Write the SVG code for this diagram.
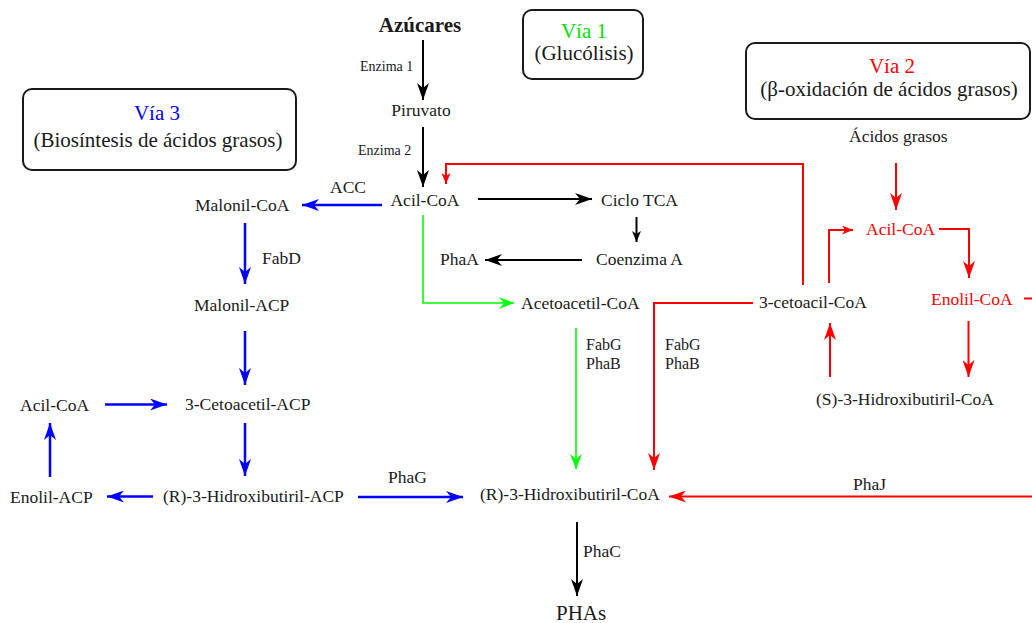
<svg xmlns="http://www.w3.org/2000/svg" width="1032" height="623" viewBox="0 0 1032 623">
<style>
text{font-family:"Liberation Serif","Times New Roman",serif;font-size:17.5px;fill:#1a1a1a}
.big{font-size:21px}
.sm{font-size:14px}
.fp{font-size:16px}
.b{font-weight:bold}
.mid{text-anchor:middle}
.box{fill:none;stroke:#1a1a1a;stroke-width:2}
.k{stroke:#000;stroke-width:2;fill:none}
.bl{stroke:#0000ff;stroke-width:2.5;fill:none}
.g{stroke:#00ff00;stroke-width:1.6;fill:none}
.r{stroke:#ff0000;stroke-width:2;fill:none}
.tr{fill:#ff0000}.tg{fill:#00e000}.tb{fill:#0000ff}
</style>
<defs>
<marker id="ak" markerUnits="userSpaceOnUse" markerWidth="18" markerHeight="12" refX="17" refY="6" orient="auto"><path d="M0,0 L17,6 L0,12 L5,6 z" fill="#000"/></marker>
<marker id="aks" markerUnits="userSpaceOnUse" markerWidth="12" markerHeight="9" refX="11" refY="4.5" orient="auto"><path d="M0,0 L11,4.5 L0,9 L3,4.5 z" fill="#000"/></marker>
<marker id="ab" markerUnits="userSpaceOnUse" markerWidth="18" markerHeight="12" refX="17" refY="6" orient="auto"><path d="M0,0 L17,6 L0,12 L5,6 z" fill="#0000ff"/></marker>
<marker id="ag" markerUnits="userSpaceOnUse" markerWidth="16" markerHeight="12" refX="15" refY="6" orient="auto"><path d="M0,0 L15,6 L0,12 L5,6 z" fill="#00ff00"/></marker>
<marker id="ar" markerUnits="userSpaceOnUse" markerWidth="18" markerHeight="12" refX="17" refY="6" orient="auto"><path d="M0,0 L17,6 L0,12 L5,6 z" fill="#ff0000"/></marker>
<marker id="ars" markerUnits="userSpaceOnUse" markerWidth="12" markerHeight="9" refX="11" refY="4.5" orient="auto"><path d="M0,0 L11,4.5 L0,9 L3,4.5 z" fill="#ff0000"/></marker>
</defs>
<rect width="1032" height="623" fill="#fff"/>

<g id="via1"><rect class="box" x="523" y="10" width="120" height="69" rx="9"/><text class="big mid tg" x="584" y="38">Vía 1</text><text class="big mid" x="584" y="60">(Glucólisis)</text></g>
<g id="via2"><rect class="box" x="746" y="43" width="284" height="76" rx="9"/><text class="big mid tr" x="892" y="73">Vía 2</text><text class="big mid" x="889" y="96">(β-oxidación de ácidos grasos)</text></g>
<g id="via3"><rect class="box" x="23" y="89" width="273" height="81" rx="9"/><text class="big mid tb" x="157" y="120">Vía 3</text><text class="big mid" x="158" y="147">(Biosíntesis de ácidos grasos)</text></g>

<g id="azucares"><text class="big b mid" x="420" y="32">Azúcares</text></g>
<g id="piruvato"><text class="mid" x="421" y="116">Piruvato</text></g>
<g id="acilcoa"><text class="mid" x="425" y="206">Acil-CoA</text></g>
<g id="ciclotca"><text x="601" y="206">Ciclo TCA</text></g>
<g id="coenzimaa"><text x="596" y="265">Coenzima  A</text></g>
<g id="phaa"><text x="440" y="265">PhaA</text></g>
<g id="acetoacetil"><text x="521" y="309">Acetoacetil-CoA</text></g>
<g id="cetoacil"><text x="759" y="308">3-cetoacil-CoA</text></g>
<g id="acidos"><text x="849" y="142">Ácidos grasos</text></g>
<g id="acilcoa2"><text class="tr" x="866" y="235">Acil-CoA</text></g>
<g id="enolilcoa"><text class="tr" x="931" y="305">Enolil-CoA</text></g>
<g id="shidroxi"><text x="816" y="405">(S)-3-Hidroxibutiril-CoA</text></g>
<g id="rhidroxicoa"><text x="480" y="500">(R)-3-Hidroxibutiril-CoA</text></g>
<g id="phas"><text class="big" x="556" y="620">PHAs</text></g>
<g id="malonilcoa"><text x="195" y="211">Malonil-CoA</text></g>
<g id="malonilacp"><text x="194" y="311">Malonil-ACP</text></g>
<g id="cetoacetilacp"><text x="185" y="410">3-Cetoacetil-ACP</text></g>
<g id="acilcoa3"><text x="20" y="411">Acil-CoA</text></g>
<g id="enolilacp"><text x="10" y="503">Enolil-ACP</text></g>
<g id="rhidroxiacp"><text x="163" y="502">(R)-3-Hidroxibutiril-ACP</text></g>

<g id="connectors">
<line class="k" x1="423" y1="40" x2="423" y2="100" marker-end="url(#ak)"/>
<line class="k" x1="423" y1="127" x2="423" y2="187" marker-end="url(#ak)"/>
<line class="k" x1="478" y1="199" x2="592" y2="199" marker-end="url(#ak)"/>
<line class="k" x1="636.5" y1="217" x2="636.5" y2="242" marker-end="url(#aks)"/>
<line class="k" x1="582" y1="260" x2="485" y2="260" marker-end="url(#ak)"/>
<line class="k" x1="577" y1="522" x2="577" y2="596" marker-end="url(#ak)"/>
<polyline class="g" points="423,215 423,303 514,303" marker-end="url(#ag)"/>
<line class="g" x1="576" y1="328" x2="576" y2="469" marker-end="url(#ag)"/>
<polyline class="r" points="803,285 803,164 446,164 446,184" marker-end="url(#ars)"/>
<polyline class="r" points="753,303 654,303 654,470" marker-end="url(#ar)"/>
<polyline class="r" points="829,283 829,230 853,230" marker-end="url(#ars)"/>
<line class="r" x1="896" y1="163" x2="896" y2="210" marker-end="url(#ar)"/>
<polyline class="r" points="939,229 969,229 969,278" marker-end="url(#ar)"/>
<line class="r" x1="1024" y1="298.5" x2="1032" y2="298.5"/>
<line class="r" x1="968.5" y1="321" x2="968.5" y2="377" marker-end="url(#ar)"/>
<line class="r" x1="830" y1="377" x2="830" y2="323" marker-end="url(#ar)"/>
<line class="r" x1="1032" y1="496.5" x2="669" y2="496.5" marker-end="url(#ar)"/>
<line class="bl" x1="382" y1="205" x2="302" y2="205" marker-end="url(#ab)"/>
<line class="bl" x1="245" y1="223" x2="245" y2="284" marker-end="url(#ab)"/>
<line class="bl" x1="245" y1="331" x2="245" y2="385" marker-end="url(#ab)"/>
<line class="bl" x1="105" y1="404.5" x2="167" y2="404.5" marker-end="url(#ab)"/>
<line class="bl" x1="245" y1="423" x2="245" y2="476" marker-end="url(#ab)"/>
<line class="bl" x1="153" y1="496.5" x2="107" y2="496.5" marker-end="url(#ab)"/>
<line class="bl" x1="50" y1="477" x2="50" y2="423" marker-end="url(#ab)"/>
<line class="bl" x1="358" y1="497" x2="463" y2="497" marker-end="url(#ab)"/>
</g>

<g id="labels">
<text class="sm" x="360" y="71">Enzima 1</text>
<text class="sm" x="358" y="155">Enzima 2</text>
<text x="330" y="193">ACC</text>
<text x="262" y="264">FabD</text>
<text class="fp" x="586" y="350">FabG</text>
<text class="fp" x="586" y="369">PhaB</text>
<text class="fp" x="665" y="350">FabG</text>
<text class="fp" x="665" y="369">PhaB</text>
<text x="388" y="483">PhaG</text>
<text x="853" y="490">PhaJ</text>
<text x="583" y="557">PhaC</text>
</g>
</svg>
